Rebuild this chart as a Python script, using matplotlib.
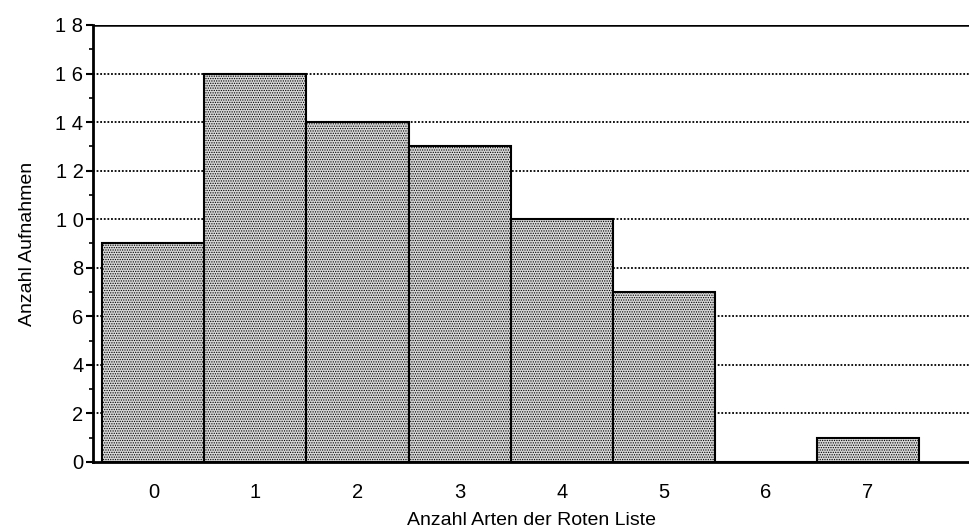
import matplotlib.pyplot as plt
from matplotlib.ticker import MultipleLocator

plt.rcParams['font.family'] = ['Liberation Sans', 'DejaVu Sans']
plt.rcParams['hatch.color'] = '#6e6e6e'
plt.rcParams['hatch.linewidth'] = 0.6

categories = [0, 1, 2, 3, 4, 5, 6, 7]
counts = [9, 16, 14, 13, 10, 7, 0, 1]
tick_labels = ['0', '1', '2', '3', '4', '5', '6', '7']
y_labels = ['0', '2', '4', '6', '8', '1 0', '1 2', '1 4', '1 6', '1 8']

fig = plt.figure(figsize=(9.7, 5.31), dpi=100)
ax = fig.add_axes([0.096, 0.13, 0.904, 0.823])

# dotted grid behind the bars
for y in range(2, 18, 2):
    ax.axhline(y, color='black', lw=1.3, ls=(0, (1, 1)), zorder=0)
ax.axhline(18, color='black', lw=1.8, zorder=0)

ax.bar(categories, counts, width=1.0, facecolor='#d9d9d9', edgecolor='black',
       linewidth=1.5, hatch='.......', zorder=2)

ax.set_xlim(-0.59, 8.0)
ax.set_ylim(0, 18)
ax.set_xticks(categories)
ax.set_xticklabels(tick_labels, fontsize=14.5)
ax.set_yticks(range(0, 19, 2))
ax.set_yticklabels(y_labels, fontsize=14.5)
ax.yaxis.set_minor_locator(MultipleLocator(1))
ax.tick_params(axis='y', length=5, width=1.5, direction='out', pad=2)
ax.tick_params(axis='y', which='minor', length=3, width=1.2)
ax.tick_params(axis='x', length=0, pad=15)

for s in ['top', 'right']:
    ax.spines[s].set_visible(False)
ax.spines['left'].set_linewidth(2)
ax.spines['bottom'].set_linewidth(2)

ax.set_xlabel('Anzahl Arten der Roten Liste', fontsize=14, labelpad=7)
ax.set_ylabel('Anzahl Aufnahmen', fontsize=14, labelpad=14)

fig.savefig('out.png', dpi=100)
